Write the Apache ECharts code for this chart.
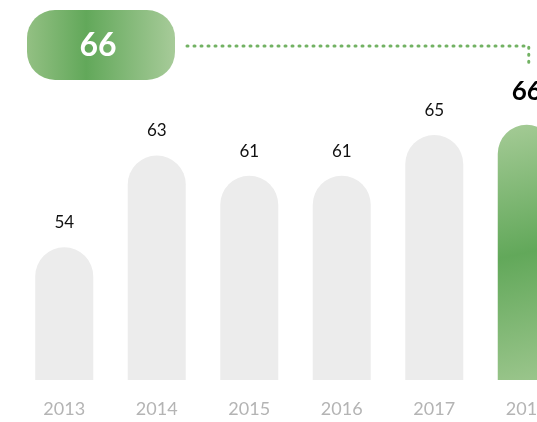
<!DOCTYPE html>
<html>
<head>
<meta charset="utf-8" />
<title>Bars</title>
<style>
  html, body { margin: 0; padding: 0; background: #fff; }
</style>
</head>
<body>
<div id="main" style="width: 537px;height: 422px"></div>
<script src="https://cdn.jsdelivr.net/npm/echarts@6/dist/echarts.min.js"></script>
<script type="text/javascript">
  // data
  var years = ['2013', '2014', '2015', '2016', '2017', '2018'];
  var values = [54, 63, 61, 61, 65, 66];
  var highlight = 5;

  var green = new echarts.graphic.LinearGradient(0, 0, 1, 1, [
    { offset: 0, color: '#a5cb96' },
    { offset: 0.5, color: '#62a85a' },
    { offset: 1, color: '#9cc68d' }
  ]);

  var seriesData = values.map(function (v, i) {
    if (i === highlight) {
      return {
        value: v,
        itemStyle: { color: green },
        label: { fontSize: 26, fontWeight: 'bold', color: '#000', distance: 20 }
      };
    }
    return v;
  });

  var myChart = echarts.init(document.getElementById('main'));
  var option = {
    animation: false,
    grid: { left: 18, width: 555, top: 84, height: 296, outerBoundsMode: 'none', containLabel: false },
    xAxis: {
      type: 'category',
      data: years,
      axisLine: { show: false },
      axisTick: { show: false },
      axisLabel: { color: '#b4b4b4', fontSize: 18, fontFamily: 'Lato', margin: 20 }
    },
    yAxis: { type: 'value', min: 41, max: 70, show: false },
    series: [{
      type: 'bar',
      data: seriesData,
      barWidth: 58,
      itemStyle: { color: '#ececec', borderRadius: [29, 29, 0, 0] },
      label: { show: true, position: 'top', distance: 16, color: '#111', fontSize: 17, fontFamily: 'Lato' }
    }]
  };
  myChart.setOption(option);

  // badge + dotted connector to highlighted bar
  var hiPt = myChart.convertToPixel({ seriesIndex: 0 }, [highlight, values[highlight]]);
  var lineY = 46;
  var cx = hiPt[0] + 2;
  myChart.setOption({
    graphic: [
      {
        type: 'rect', left: 27, top: 10,
        shape: { width: 148, height: 70, r: 28 },
        style: { fill: new echarts.graphic.LinearGradient(0, 0, 1, 0, [
          { offset: 0, color: '#93c083' },
          { offset: 0.4, color: '#62a85a' },
          { offset: 1, color: '#a7cb99' }
        ]) }
      },
      {
        type: 'text', x: 98, y: 46,
        style: { text: String(values[highlight]), fill: '#fff', font: 'bold 32px Lato', align: 'center', verticalAlign: 'middle' }
      },
      {
        type: 'polyline',
        shape: { points: [[187, lineY], [cx, lineY], [cx, 68]] },
        style: { stroke: '#72b263', lineWidth: 3, lineDash: [1, 6], lineCap: 'round', fill: 'none' }
      }
    ]
  });
</script>
</body>
</html>
